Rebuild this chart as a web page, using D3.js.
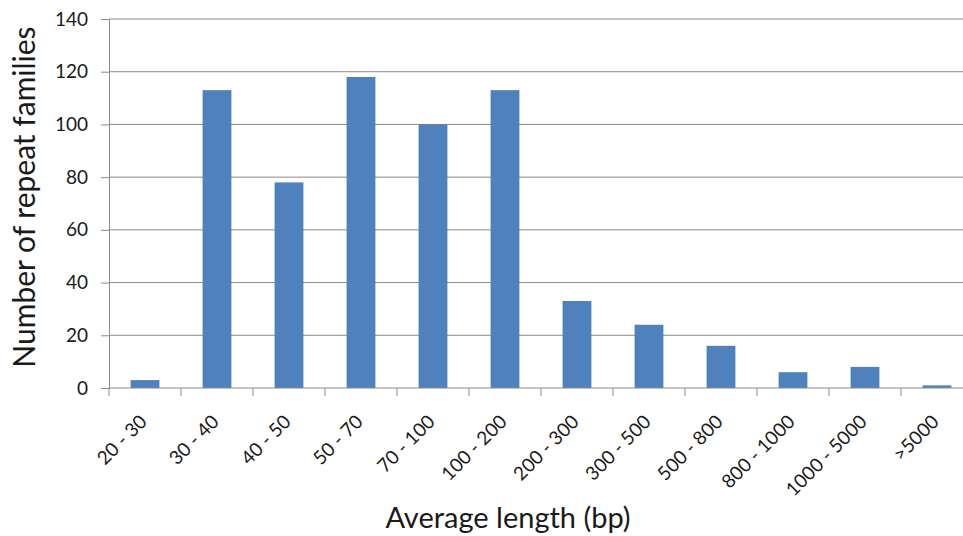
<!DOCTYPE html>
<html><head><meta charset="utf-8">
<script src="https://cdn.jsdelivr.net/npm/d3@7"></script>
<style>
html,body{margin:0;padding:0;background:#fff;}
svg{display:block;font-family:Lato,"Open Sans",sans-serif;}
</style></head>
<body><svg id="c" width="963" height="536"></svg>
<script>
const categories = ["20 - 30","30 - 40","40 - 50","50 - 70","70 - 100","100 - 200","200 - 300","300 - 500","500 - 800","800 - 1000","1000 - 5000",">5000"];
const values = [3,113,78,118,100,113,33,24,16,6,8,1];
const yTicks = [0,20,40,60,80,100,120,140];

(function(){
const svg = d3.select("#c");
const pLeft = 109, pRight = 973, pTop = 19, pBottom = 388;
const x = d3.scaleBand().domain(categories).range([pLeft, pRight]).paddingInner(0.6).paddingOuter(0.3);
const y = d3.scaleLinear().domain([0,140]).range([pBottom, pTop]);
const grid = "#8a8a8a";
const txt = "#1a1a1a";

// gridlines
svg.append("g").selectAll("line").data(yTicks.filter(d=>d>0)).join("line")
  .attr("x1", pLeft).attr("x2", 963).attr("y1", d=>y(d)).attr("y2", d=>y(d))
  .attr("stroke", grid).attr("stroke-width",1);

// bars
svg.append("g").selectAll("rect").data(values).join("rect")
  .attr("x", (d,i)=>x(categories[i]))
  .attr("width", x.bandwidth())
  .attr("y", d=>y(d))
  .attr("height", d=>pBottom - y(d))
  .attr("fill", "#4F81BD");

// y axis
const ya = svg.append("g").attr("transform", `translate(${pLeft},0)`)
  .call(d3.axisLeft(y).tickValues(yTicks).tickSize(8).tickPadding(13));
ya.select(".domain").attr("stroke", grid);
ya.selectAll(".tick line").attr("stroke", grid);
ya.selectAll(".tick text").attr("font-size", 19).attr("fill", txt).attr("font-family","Lato,'Open Sans',sans-serif");

// x axis
const step = x.step();
const xa = svg.append("g").attr("transform", `translate(0,${pBottom})`);
xa.append("line").attr("x1", pLeft).attr("x2", 963).attr("stroke", grid);
const edges = d3.range(categories.length + 1).map(i => pLeft + i*step);
xa.selectAll("line.t").data(edges).join("line").attr("class","t")
  .attr("x1", d=>d).attr("x2", d=>d).attr("y1",0).attr("y2",8).attr("stroke", grid);
xa.selectAll("text").data(categories).join("text")
  .attr("transform", d=>`translate(${x(d)+x.bandwidth()/2+3},${35}) rotate(-45)`)
  .attr("text-anchor","end")
  .attr("font-size", 19).attr("fill",txt)
  .text(d=>d);

// axis titles
svg.append("text").attr("transform","translate(35,197) rotate(-90)")
  .attr("text-anchor","middle").attr("font-size",30).attr("fill",txt)
  .text("Number of repeat families");
svg.append("text").attr("x",508).attr("y",528)
  .attr("text-anchor","middle").attr("font-size",29).attr("fill",txt)
  .text("Average length (bp)");
})();
</script></body></html>
